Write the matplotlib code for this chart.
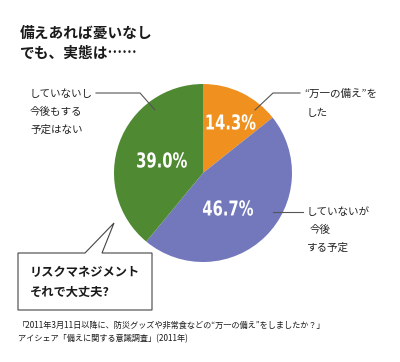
import matplotlib
matplotlib.use("Agg")
import matplotlib.pyplot as plt
from matplotlib.patches import Polygon, PathPatch
from matplotlib.textpath import TextPath
from matplotlib.font_manager import FontProperties
from matplotlib.transforms import Affine2D

plt.rcParams['font.family'] = ['Noto Sans CJK JP', 'DejaVu Sans']

# ---- data ----
categories = ['“万一の備え”をした', 'していないが今後する予定', 'していないし今後もする予定はない']
values = [14.3, 46.7, 39.0]
pct_labels = ['14.3%', '46.7%', '39.0%']
colors = ['#F0911F', '#7278BB', '#4F8A33']

W, H = 400, 362
fig = plt.figure(figsize=(W / 100, H / 100), dpi=100)
fig.patch.set_facecolor('white')

# pie axes: center (203,173) radius 89 px
cx, cy, r = 203, 173, 89
ax = fig.add_axes([(cx - r) / W, (H - cy - r) / H, 2 * r / W, 2 * r / H])
wedges, _ = ax.pie(values, colors=colors, startangle=90, counterclock=False,
                   radius=1, wedgeprops=dict(linewidth=0))
ax.set_xlim(-1, 1)
ax.set_ylim(-1, 1)
ax.set_aspect('equal')
ax.axis('off')

# overlay axes in pixel coordinates
ov = fig.add_axes([0, 0, 1, 1], facecolor='none')
ov.set_xlim(0, W)
ov.set_ylim(H, 0)
ov.axis('off')

# condensed bold percentage labels (DejaVu Sans Bold squeezed horizontally)
fp = FontProperties(family='DejaVu Sans', weight='bold')
pct_pos = [(231, 122), (228, 208), (162, 160)]
for (x, y), t in zip(pct_pos, pct_labels):
    tp = TextPath((0, 0), t, size=20.5, prop=fp)
    bb = tp.get_extents()
    sx = 0.72
    tr = (Affine2D().translate(-(bb.x0 + bb.x1) / 2, -(bb.y0 + bb.y1) / 2)
          .scale(sx, -1).translate(x, y))
    ov.add_patch(PathPatch(tr.transform_path(tp), facecolor='white',
                           edgecolor='none'))

lc = '#555555'
lw = 0.8
# leader lines
ov.plot([255, 273, 300], [110, 93, 93], color=lc, lw=lw)
ov.plot([155, 140, 96], [110, 93, 93], color=lc, lw=lw)
ov.plot([273, 303], [212, 212], color=lc, lw=lw)

lab_font = dict(fontsize=7.6, color='#222222', va='center')
ov.text(304, 94, '“万一の備え”を', ha='left', **lab_font)
ov.text(307, 113, 'した', ha='left', **lab_font)
ov.text(30, 94, 'していないし', ha='left', **lab_font)
ov.text(30, 112, '今後もする', ha='left', **lab_font)
ov.text(30, 130, '予定はない', ha='left', **lab_font)
ov.text(307, 212, 'していないが', ha='left', **lab_font)
ov.text(310, 230, '今後', ha='left', **lab_font)
ov.text(307, 248, 'する予定', ha='left', **lab_font)

# title
ov.text(20, 33, '備えあれば憂いなし', fontsize=10.6, fontweight='bold', color='#1a1a1a',
        ha='left', va='center')
ov.text(20, 53, 'でも、実態は……', fontsize=10.6, fontweight='bold', color='#1a1a1a',
        ha='left', va='center')

# speech box with tail
box = Polygon([(18, 253), (85, 253), (114, 223), (102, 253), (152, 253),
               (152, 310), (18, 310)], closed=True, facecolor='white',
              edgecolor='#444444', lw=0.8)
ov.add_patch(box)
ov.text(30, 273, 'リスクマネジメント', fontsize=8.8, fontweight='bold', color='#1a1a1a',
        ha='left', va='center')
ov.text(30, 292, 'それで大丈夫?', fontsize=8.8, fontweight='bold', color='#1a1a1a',
        ha='left', va='center')

# footnote
ov.text(18, 325, '「2011年3月11日以降に、防災グッズや非常食などの“万一の備え”をしましたか？」',
        fontsize=5.9, color='#1a1a1a', ha='left', va='center')
ov.text(18, 339, 'アイシェア「備えに関する意識調査」(2011年)',
        fontsize=5.9, color='#1a1a1a', ha='left', va='center')

fig.savefig('out.png', dpi=100, facecolor='white')
